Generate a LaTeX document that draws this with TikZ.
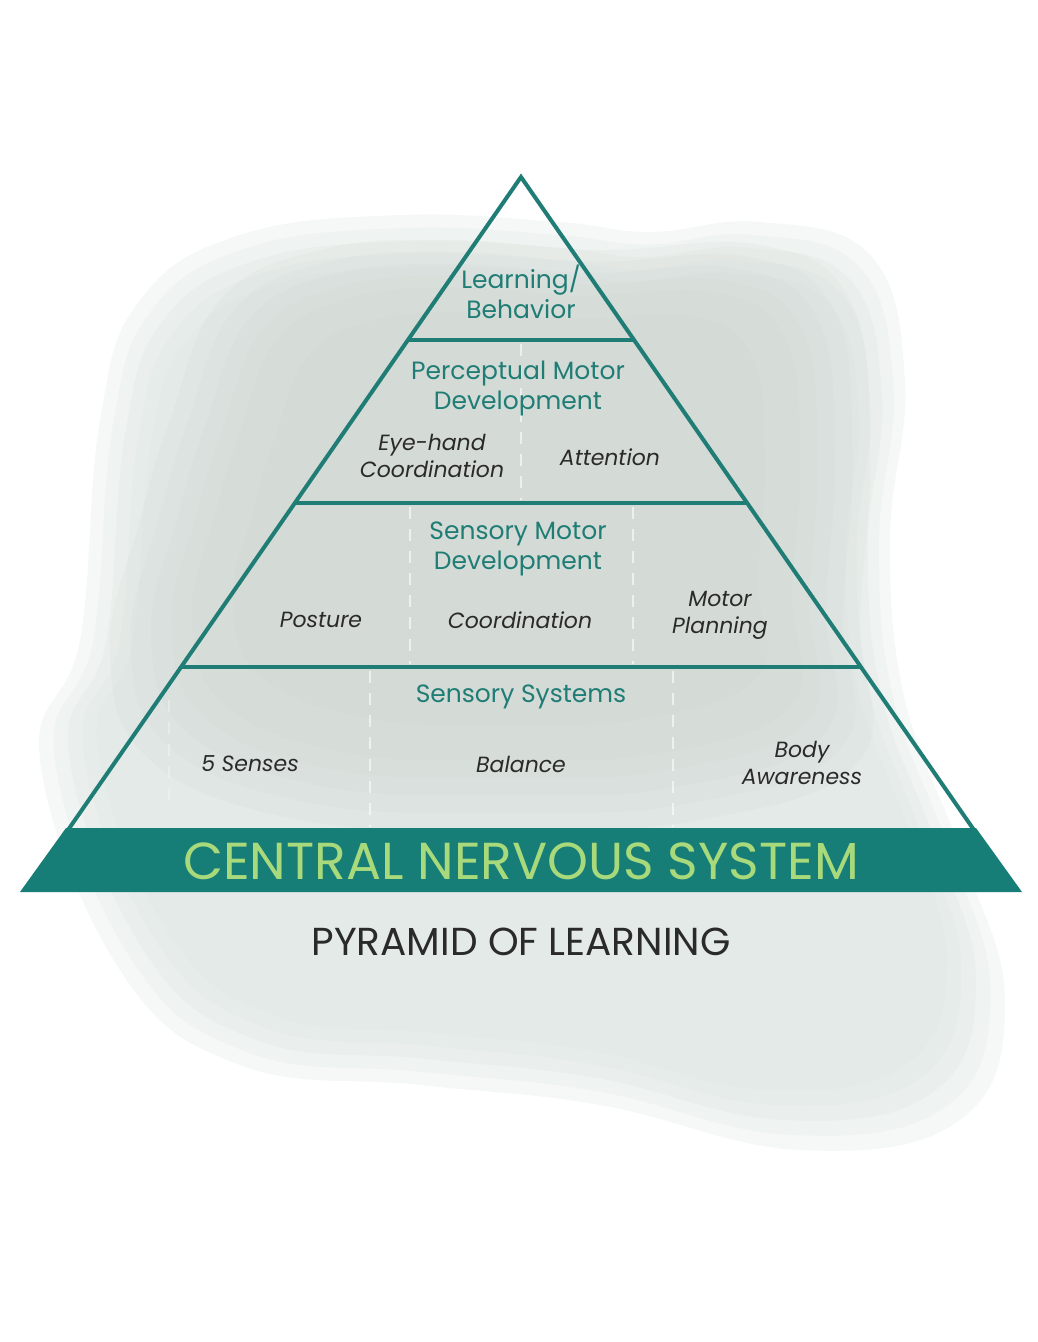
\documentclass[tikz,border=0pt]{standalone}
\usepackage{fontspec}
\setmainfont{Poppins}
\usetikzlibrary{calc}
\definecolor{pyrteal}{HTML}{1F7D76}
\definecolor{cnsteal}{HTML}{177D77}
\definecolor{cnsgreen}{HTML}{A8DA7C}
\definecolor{labelgray}{HTML}{2A2A2A}
\definecolor{washlight}{HTML}{DCE6E3}
\definecolor{washdark}{HTML}{C9CEC7}
\newcommand{\outerwash}{plot[smooth cycle, tension=0.7] coordinates {
    (100,420) (140,300) (240,235) (400,215) (560,222) (650,232) (760,222)
    (870,255) (905,380) (890,540) (905,700) (960,850) (1005,1000) (960,1120)
    (800,1150) (600,1105) (420,1085) (240,1065) (120,970) (40,760) (80,640)}}
\newcommand{\innerwash}{plot[smooth cycle, tension=0.7] coordinates {
    (170,420) (220,300) (320,250) (450,240) (600,250) (760,245)
    (850,300) (870,450) (860,620) (860,760) (700,820) (500,830) (300,820)
    (150,760) (110,650) (140,520)}}
\tikzset{
  pyrline/.style={draw=pyrteal, line width=4pt, line join=miter},
  heading/.style={text=pyrteal, font=\fontsize{25}{30}\selectfont, align=center},
  item/.style={text=labelgray, font=\fontsize{22}{27}\selectfont\itshape, align=center},
  divider/.style={draw=white, line width=2pt, dash pattern=on 12pt off 10pt, opacity=0.6},
}

\begin{document}
\begin{tikzpicture}[x=1pt, y=-1pt]
  %%%%% START %%%%%
  \useasboundingbox[fill=white] (0,0) rectangle (1037,1342);

  % watercolour wash, soft edges from stacked layers
  \foreach \s in {1.0,0.97,0.94,0.91,0.88}
    \fill[washlight, opacity=0.25, shift={(520,650)}, scale=\s, shift={(-520,-650)}] \outerwash;
  \foreach \s in {1.0,0.95,0.9,0.85,0.8,0.7}
    \fill[washdark, opacity=0.11, shift={(520,480)}, scale=\s, shift={(-520,-480)}] \innerwash;

  % pyramid corners and band edges
  \coordinate (apex) at (521,177);
  \coordinate (l1) at (408,340);  \coordinate (r1) at (634,340);
  \coordinate (l2) at (295,503);  \coordinate (r2) at (747,503);
  \coordinate (l3) at (181,667);  \coordinate (r3) at (861,667);
  \coordinate (l4) at (68,830);   \coordinate (r4) at (974,830);

  % faint separators
  \draw[divider] (521,344) -- (521,500);
  \draw[divider] (410,507) -- (410,664);
  \draw[divider] (633,507) -- (633,664);
  \draw[divider] (370,671) -- (370,827);
  \draw[divider] (673,671) -- (673,827);
  \draw[divider, opacity=0.3] (169,700) -- (169,800);

  % outline
  \draw[pyrline] (apex) -- (l4) -- (r4) -- cycle;
  \draw[pyrline] (l1) -- (r1);
  \draw[pyrline] (l2) -- (r2);
  \draw[pyrline] (l3) -- (r3);

  % base band
  \fill[cnsteal] (66,828) -- (976,828) -- (1022,892) -- (20,892) -- cycle;

  \node[heading] (learn) at (521,292) {Learning/\\Behavior};
  \node[heading] (percept) at (518,388) {Perceptual Motor\\Development};
  \node[item] (eyehand) at (432,456) {Eye-hand\\Coordination};
  \node[item] (attention) at (610,457) {Attention};
  \node[heading] (sensmotor) at (518,549) {Sensory Motor\\Development};
  \node[item] (posture) at (321,620) {Posture};
  \node[item] (coord) at (520,620) {Coordination};
  \node[item] (motorplan) at (720,615) {Motor\\Planning};
  \node[heading] (senssys) at (521,697) {Sensory Systems};
  \node[item] (senses) at (250,764) {5 Senses};
  \node[item] (balance) at (521,764) {Balance};
  \node[item] (body) at (802,763) {Body\\Awareness};

  \node[text=cnsgreen, font=\fontsize{52}{56}\selectfont] (cns) at (521,861) {CENTRAL NERVOUS SYSTEM};
  \node[text=labelgray, font=\fontsize{39}{42}\selectfont] (title) at (521,942) {PYRAMID OF LEARNING};
  %%%%% END %%%%%
\end{tikzpicture}
\end{document}
